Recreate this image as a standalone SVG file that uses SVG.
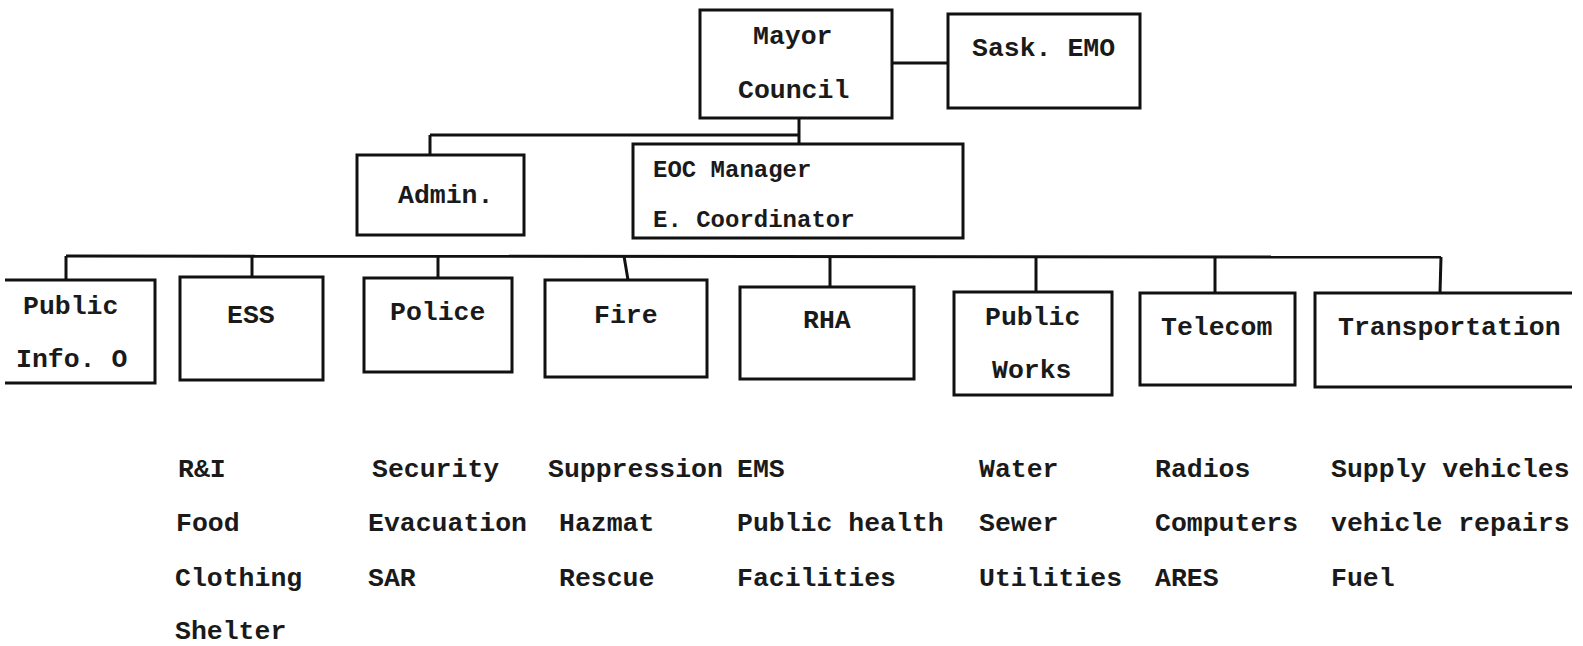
<svg xmlns="http://www.w3.org/2000/svg" width="1583" height="646" viewBox="0 0 1583 646">
<style>
.box{fill:none;stroke:#111;stroke-width:3}
.ln{fill:none;stroke:#111;stroke-width:3}
text{font-family:"Liberation Mono","Courier New",monospace;font-weight:bold;font-size:26.5px;fill:#1a1a1a}
.sm{font-size:24px}
</style>
<rect width="1583" height="646" fill="#fff"/>
<g id="connectors">
<line class="ln" x1="892" y1="63" x2="948" y2="63"/>
<line class="ln" x1="799" y1="118" x2="799" y2="144"/>
<line class="ln" x1="430" y1="135" x2="799" y2="135"/>
<line class="ln" x1="430" y1="135" x2="430" y2="155"/>
<line class="ln" x1="66" y1="256" x2="1441" y2="257"/>
<line class="ln" x1="66" y1="256" x2="66" y2="280"/>
<line class="ln" x1="252" y1="256" x2="252" y2="277"/>
<line class="ln" x1="438" y1="256" x2="438" y2="278"/>
<line class="ln" x1="624" y1="256" x2="628" y2="280"/>
<line class="ln" x1="830" y1="256" x2="830" y2="287"/>
<line class="ln" x1="1036" y1="256" x2="1036" y2="292"/>
<line class="ln" x1="1215" y1="256" x2="1215" y2="293"/>
<line class="ln" x1="1441" y1="257" x2="1440" y2="293"/>
</g>
<g id="mayor"><rect class="box" x="700" y="10" width="192" height="108"/><text x="753" y="44">Mayor</text><text x="738" y="98">Council</text></g>
<g id="sask"><rect class="box" x="948" y="14" width="192" height="94"/><text x="972" y="56">Sask. EMO</text></g>
<g id="admin"><rect class="box" x="357" y="155" width="167" height="80"/><text x="398" y="203">Admin.</text></g>
<g id="eoc"><rect class="box" x="633" y="144" width="330" height="94"/><text class="sm" x="653" y="177">EOC Manager</text><text class="sm" x="653" y="227">E. Coordinator</text></g>
<g id="pio"><path class="box" d="M5 280 H155 V383 H5"/><text x="23" y="314">Public</text><text x="16" y="367">Info. O</text></g>
<g id="ess"><rect class="box" x="180" y="277" width="143" height="103"/><text x="227" y="323">ESS</text></g>
<g id="police"><rect class="box" x="364" y="278" width="148" height="94"/><text x="390" y="320">Police</text></g>
<g id="fire"><rect class="box" x="545" y="280" width="162" height="97"/><text x="594" y="323">Fire</text></g>
<g id="rha"><rect class="box" x="740" y="287" width="174" height="92"/><text x="803" y="328">RHA</text></g>
<g id="publicworks"><rect class="box" x="954" y="292" width="158" height="103"/><text x="985" y="325">Public</text><text x="992" y="378">Works</text></g>
<g id="telecom"><rect class="box" x="1140" y="293" width="155" height="92"/><text x="1161" y="335">Telecom</text></g>
<g id="transportation"><path class="box" d="M1572 293 H1315 V387 H1572"/><text x="1338" y="335">Transportation</text></g>
<g id="lists">
<text x="178" y="477">R&amp;I</text>
<text x="176" y="531">Food</text>
<text x="175" y="586">Clothing</text>
<text x="175" y="639">Shelter</text>
<text x="372" y="477">Security</text>
<text x="368" y="531">Evacuation</text>
<text x="368" y="586">SAR</text>
<text x="548" y="477">Suppression</text>
<text x="559" y="531">Hazmat</text>
<text x="559" y="586">Rescue</text>
<text x="737" y="477">EMS</text>
<text x="737" y="531">Public health</text>
<text x="737" y="586">Facilities</text>
<text x="979" y="477">Water</text>
<text x="979" y="531">Sewer</text>
<text x="979" y="586">Utilities</text>
<text x="1155" y="477">Radios</text>
<text x="1155" y="531">Computers</text>
<text x="1155" y="586">ARES</text>
<text x="1331" y="477">Supply vehicles</text>
<text x="1331" y="531">vehicle repairs</text>
<text x="1331" y="586">Fuel</text>
</g>
</svg>
